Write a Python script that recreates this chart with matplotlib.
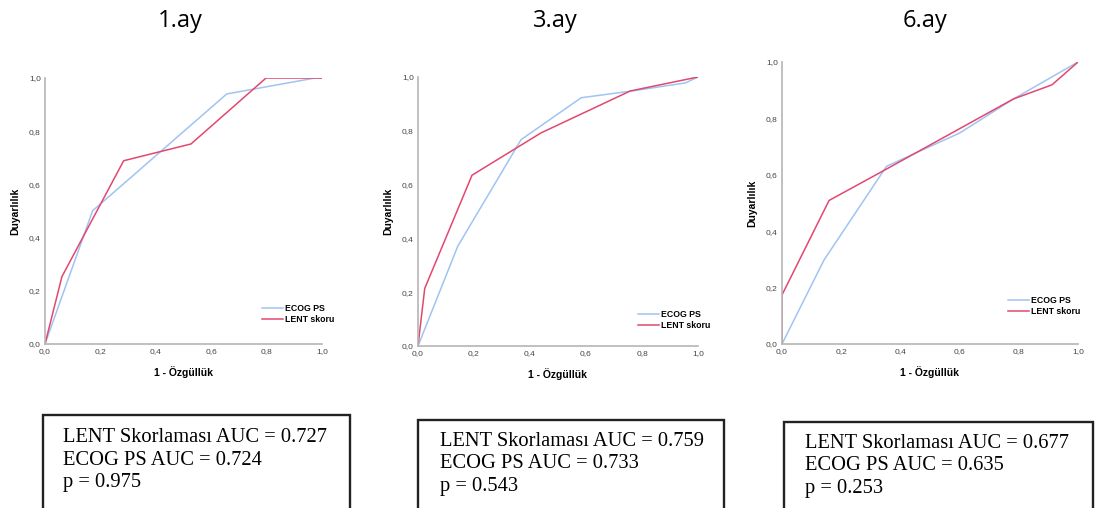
import matplotlib
matplotlib.use('Agg')
import matplotlib.pyplot as plt
from matplotlib.patches import Rectangle
from matplotlib.ticker import FuncFormatter

# ------------------- Data -------------------
titles = ['1.ay', '3.ay', '6.ay']

ecog_x_1 = [0.0, 0.172, 0.656, 0.975, 1.0]
ecog_y_1 = [0.0, 0.501, 0.940, 1.0, 1.0]
lent_x_1 = [0.0, 0.061, 0.284, 0.527, 0.798, 1.0]
lent_y_1 = [0.0, 0.253, 0.689, 0.752, 1.0, 1.0]

ecog_x_3 = [0.0, 0.142, 0.368, 0.583, 0.764, 0.955, 1.0]
ecog_y_3 = [0.0, 0.371, 0.767, 0.923, 0.948, 0.978, 1.0]
lent_x_3 = [0.0, 0.024, 0.193, 0.439, 0.758, 1.0]
lent_y_3 = [0.0, 0.214, 0.635, 0.792, 0.948, 1.0]

ecog_x_6 = [0.0, 0.142, 0.353, 0.600, 0.782, 1.0]
ecog_y_6 = [0.0, 0.298, 0.630, 0.748, 0.869, 1.0]
lent_x_6 = [0.0, 0.0, 0.159, 0.342, 0.782, 0.912, 1.0]
lent_y_6 = [0.0, 0.174, 0.509, 0.614, 0.869, 0.919, 1.0]

box_texts = [
    ['LENT Skorlaması AUC = 0.727', 'ECOG PS AUC = 0.724', 'p = 0.975'],
    ['LENT Skorlaması AUC = 0.759', 'ECOG PS AUC = 0.733', 'p = 0.543'],
    ['LENT Skorlaması AUC = 0.677', 'ECOG PS AUC = 0.635', 'p = 0.253'],
]

series = [
    (ecog_x_1, ecog_y_1, lent_x_1, lent_y_1),
    (ecog_x_3, ecog_y_3, lent_x_3, lent_y_3),
    (ecog_x_6, ecog_y_6, lent_x_6, lent_y_6),
]

# ------------------- Layout (pixels of a 1096x508 canvas) -------------------
W, H = 1096, 508
ax_px = [(45, 78, 322, 344), (418, 77, 698, 346), (782, 62, 1078, 344)]  # left, top, right, bottom
title_x = [180, 555, 925]
leg_anchor = [(0.783, 0.075), (0.786, 0.06), (0.764, 0.10)]
box_px = [(43, 415, 350), (418, 420, 724), (784, 422, 1093)]  # left, top, right
text_px = [(63, 438), (440, 441), (805, 443)]

ECOG_COL = '#9fc4f2'
LENT_COL = '#e2486f'

plt.rcParams['font.family'] = ['Liberation Sans', 'DejaVu Sans']

fig = plt.figure(figsize=(W / 100, H / 100), dpi=100)
comma = FuncFormatter(lambda v, p: f'{v:.1f}'.replace('.', ','))

for i in range(3):
    l, t, r, b = ax_px[i]
    ax = fig.add_axes([l / W, 1 - b / H, (r - l) / W, (b - t) / H])
    ex, ey, lx, ly = series[i]
    ax.plot(ex, ey, color=ECOG_COL, lw=1.1, label='ECOG PS')
    ax.plot(lx, ly, color=LENT_COL, lw=1.1, label='LENT skoru')
    ax.set_xlim(0, 1)
    ax.set_ylim(0, 1)
    ax.set_xticks([0, 0.2, 0.4, 0.6, 0.8, 1.0])
    ax.set_yticks([0, 0.2, 0.4, 0.6, 0.8, 1.0])
    ax.xaxis.set_major_formatter(comma)
    ax.yaxis.set_major_formatter(comma)
    ax.tick_params(length=0, labelsize=6, labelcolor='#444444', pad=3)
    for s in ['top', 'right']:
        ax.spines[s].set_visible(False)
    for s in ['left', 'bottom']:
        ax.spines[s].set_color('#b5b5b5')
        ax.spines[s].set_linewidth(1.2)
    ax.set_xlabel('1 - Özgüllük', fontsize=7.5, fontweight='bold', labelpad=8)
    ax.set_ylabel('Duyarlılık', fontsize=7.5, fontweight='bold', labelpad=6)
    ax.legend(loc='lower left', bbox_to_anchor=leg_anchor[i], frameon=False,
              prop={'size': 6.3, 'weight': 'bold'}, handlelength=2.4,
              handletextpad=0.2, labelspacing=0.2, borderpad=0, borderaxespad=0)

    fig.text(title_x[i] / W, 1 - 21 / H, titles[i], fontsize=17,
             family=['Open Sans', 'DejaVu Sans'], ha='center', va='center')

    bl, bt, br = box_px[i]
    fig.patches.append(Rectangle((bl / W, -0.05), (br - bl) / W, 1 - bt / H + 0.05,
                                 transform=fig.transFigure, fill=False,
                                 edgecolor='#222222', linewidth=1.7))
    tx, ty = text_px[i]
    for k, line in enumerate(box_texts[i]):
        fig.text(tx / W, 1 - (ty + 22.5 * k) / H, line, fontsize=14.8,
                 family=['Liberation Serif', 'DejaVu Serif'], ha='left', va='center')

fig.savefig('out.png', dpi=100)
